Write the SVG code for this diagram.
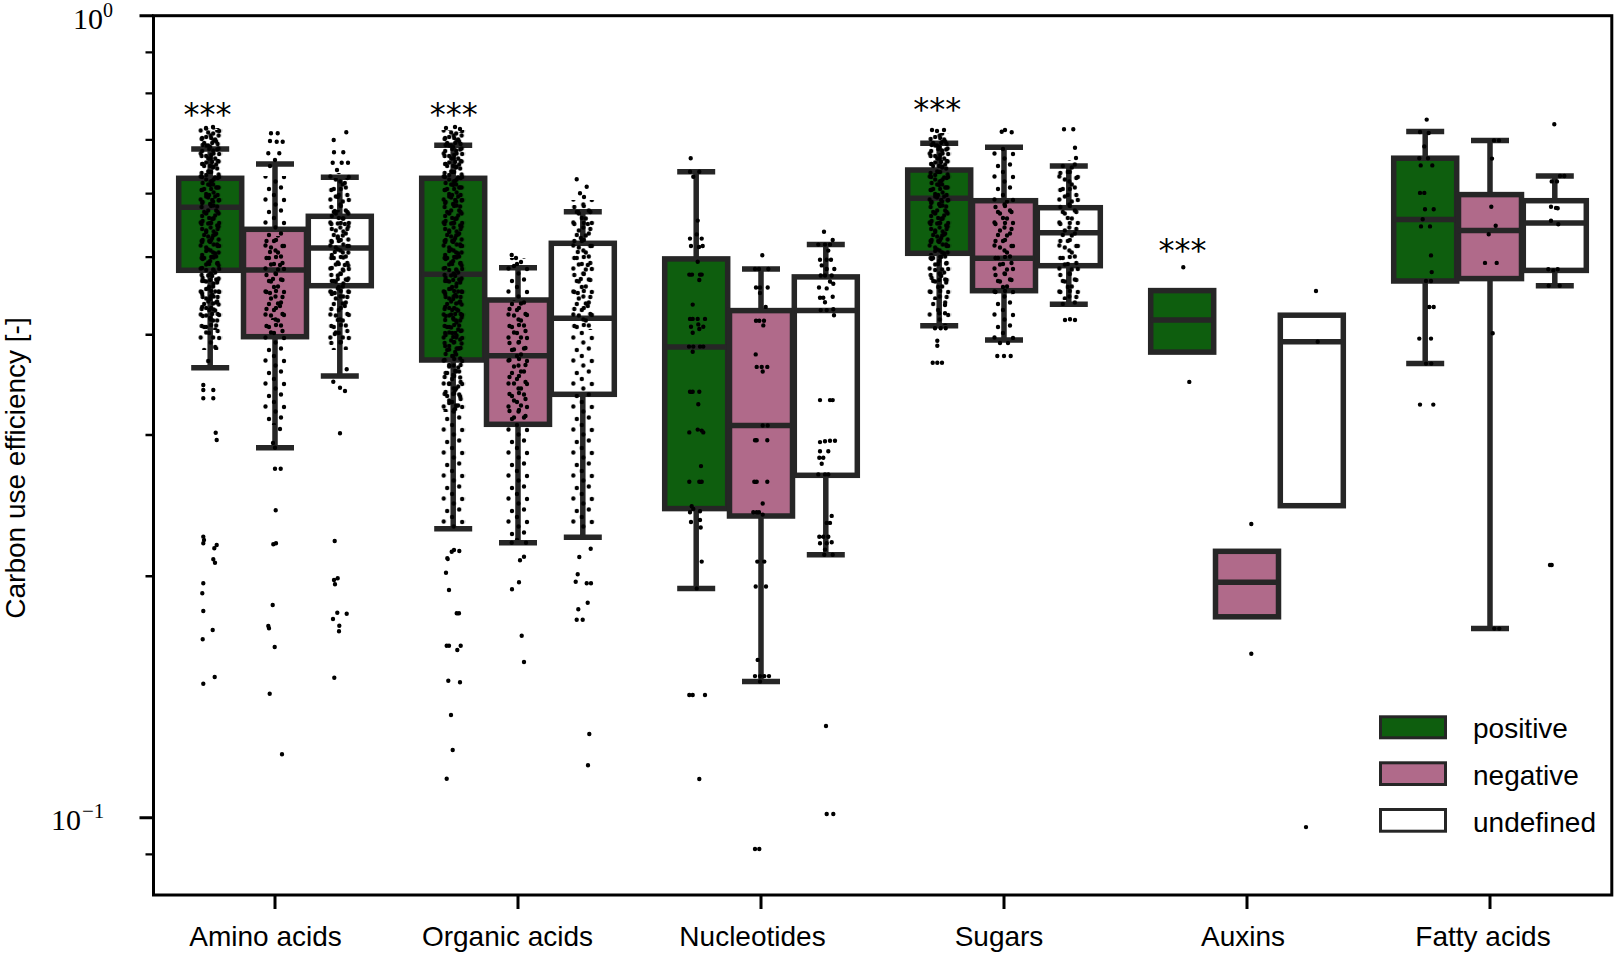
<svg xmlns="http://www.w3.org/2000/svg" width="1615" height="954" viewBox="0 0 1615 954">
<style>
.wl{stroke:#262626;stroke-width:5.5;fill:none}
.bx{stroke:#262626;stroke-width:5.5}
.lg{stroke:#262626;stroke-width:3}
.pos{fill:#0e5e0e}.neg{fill:#b06a8a}.und{fill:#fff}
.d{fill:none;stroke:#000;stroke-width:4.4;stroke-linecap:round}
.t{font-family:"Liberation Sans",Arial,sans-serif;font-size:28px;fill:#000}
.s{font-family:"Liberation Serif","Times New Roman",serif;font-size:30px;fill:#000}
.st{font-family:"DejaVu Sans",sans-serif;font-size:32px;fill:#000;text-anchor:middle}
.tk{stroke:#000;stroke-width:3;fill:none}
.mt{stroke:#000;stroke-width:2.4;fill:none}
</style>
<defs>
<pattern id="pa" patternUnits="userSpaceOnUse" x="-12" y="0" width="24" height="17"><path class="d" d="M3.5 3h0M13 2h0M19.5 8h0M8 9.5h0M15 14.5h0"/></pattern>
<pattern id="pb" patternUnits="userSpaceOnUse" x="-12" y="0" width="24" height="23"><path class="d" d="M6 5h0M18 3.5h0M11 11h0M2.5 15.5h0M21 16h0M12.5 20.5h0"/></pattern>
<pattern id="pc" patternUnits="userSpaceOnUse" x="-12" y="0" width="24" height="13"><path class="d" d="M10 2.5h0M20.5 5.5h0M4 8h0M15.5 10.5h0"/></pattern>
<pattern id="pd" patternUnits="userSpaceOnUse" x="-12" y="0" width="24" height="41"><path class="d" d="M7 6h0M17 19h0M10 33h0"/></pattern>
<pattern id="pe" patternUnits="userSpaceOnUse" x="-12" y="0" width="24" height="19"><path class="d" d="M8 4h0M17 6.5h0M4.5 12h0M12 14h0M19 16.5h0M14 10h0"/></pattern>
</defs>
<rect width="1615" height="954" fill="#fff"/>

<g id="axes">
<rect class="tk" x="153.5" y="15.7" width="1458.3" height="879.3"/>
<path class="tk" d="M139.5 15.7H153.5M139.5 817.7H153.5M275 895V909M518 895V909M761 895V909M1004 895V909M1247 895V909M1490 895V909"/>
<path class="mt" d="M145.5 52.4H153.5M145.5 93.4H153.5M145.5 139.9H153.5M145.5 193.6H153.5M145.5 257.1H153.5M145.5 334.8H153.5M145.5 435H153.5M145.5 576.3H153.5M145.5 854.4H153.5"/>
<text class="s" x="73" y="28.5">10<tspan font-size="20" dy="-12">0</tspan></text>
<text class="s" x="51" y="830">10<tspan font-size="21" dy="-12" dx="1">−1</tspan></text>
<text class="t" transform="translate(25,468) rotate(-90)" text-anchor="middle">Carbon use efficiency [-]</text>
<g class="t" text-anchor="middle">
<text x="265.5" y="946">Amino acids</text>
<text x="507.5" y="946">Organic acids</text>
<text x="752.5" y="946">Nucleotides</text>
<text x="999" y="946">Sugars</text>
<text x="1243" y="946">Auxins</text>
<text x="1483" y="946">Fatty acids</text>
</g>
</g>

<g id="boxes">
<g id="amino-pos"><path class="wl" d="M210.2 178.3V149M191.2 149H229.2M210.2 270.3V367.7M191.2 367.7H229.2"/><rect class="bx pos" x="178.7" y="178.3" width="63" height="92"/><path class="wl" d="M178.7 207.3H241.7"/></g>
<g id="amino-neg"><path class="wl" d="M275 229.3V164M256 164H294M275 336.7V447.7M256 447.7H294"/><rect class="bx neg" x="243.5" y="229.3" width="63" height="107.4"/><path class="wl" d="M243.5 270H306.5"/></g>
<g id="amino-und"><path class="wl" d="M339.8 216.3V177.3M320.8 177.3H358.8M339.8 285.7V376M320.8 376H358.8"/><rect class="bx und" x="308.3" y="216.3" width="63" height="69.4"/><path class="wl" d="M308.3 248H371.3"/></g>

<g id="organic-pos"><path class="wl" d="M453.2 178.3V145.3M434.2 145.3H472.2M453.2 360V528.7M434.2 528.7H472.2"/><rect class="bx pos" x="421.7" y="178.3" width="63" height="181.7"/><path class="wl" d="M421.7 274.3H484.7"/></g>
<g id="organic-neg"><path class="wl" d="M518 300V267.7M499 267.7H537M518 424.3V542.7M499 542.7H537"/><rect class="bx neg" x="486.5" y="300" width="63" height="124.3"/><path class="wl" d="M486.5 355.7H549.5"/></g>
<g id="organic-und"><path class="wl" d="M582.8 243.3V211.7M563.8 211.7H601.8M582.8 394.3V537.3M563.8 537.3H601.8"/><rect class="bx und" x="551.3" y="243.3" width="63" height="151"/><path class="wl" d="M551.3 318.3H614.3"/></g>

<g id="nuc-pos"><path class="wl" d="M696.2 258.9V171.7M677.2 171.7H715.2M696.2 508.6V588.4M677.2 588.4H715.2"/><rect class="bx pos" x="664.7" y="258.9" width="63" height="249.7"/><path class="wl" d="M664.7 347H727.7"/></g>
<g id="nuc-neg"><path class="wl" d="M761 310.6V269M742 269H780M761 516V681.6M742 681.6H780"/><rect class="bx neg" x="729.5" y="310.6" width="63" height="205.4"/><path class="wl" d="M729.5 425.5H792.5"/></g>
<g id="nuc-und"><path class="wl" d="M825.8 276.9V244.6M806.8 244.6H844.8M825.8 475.3V554.7M806.8 554.7H844.8"/><rect class="bx und" x="794.3" y="276.9" width="63" height="198.4"/><path class="wl" d="M794.3 310.6H857.3"/></g>

<g id="sug-pos"><path class="wl" d="M939.2 170V143.3M920.2 143.3H958.2M939.2 253.3V325.7M920.2 325.7H958.2"/><rect class="bx pos" x="907.7" y="170" width="63" height="83.3"/><path class="wl" d="M907.7 198.3H970.7"/></g>
<g id="sug-neg"><path class="wl" d="M1004 200.7V147.3M985 147.3H1023M1004 290.7V340M985 340H1023"/><rect class="bx neg" x="972.5" y="200.7" width="63" height="90"/><path class="wl" d="M972.5 258.3H1035.5"/></g>
<g id="sug-und"><path class="wl" d="M1068.8 207.7V166M1049.8 166H1087.8M1068.8 265.7V304.3M1049.8 304.3H1087.8"/><rect class="bx und" x="1037.3" y="207.7" width="63" height="58"/><path class="wl" d="M1037.3 232.7H1100.3"/></g>

<g id="aux-pos"><rect class="bx pos" x="1150.7" y="290.6" width="63" height="61.5"/><path class="wl" d="M1150.7 320H1213.7"/></g>
<g id="aux-neg"><rect class="bx neg" x="1215.5" y="551.3" width="63" height="65.5"/><path class="wl" d="M1215.5 582.3H1278.5"/></g>
<g id="aux-und"><rect class="bx und" x="1280.3" y="315.2" width="63" height="190.5"/><path class="wl" d="M1280.3 341.8H1343.3"/></g>

<g id="fat-pos"><path class="wl" d="M1425.2 158.2V131.4M1406.2 131.4H1444.2M1425.2 281V363.6M1406.2 363.6H1444.2"/><rect class="bx pos" x="1393.7" y="158.2" width="63" height="122.8"/><path class="wl" d="M1393.7 219.6H1456.7"/></g>
<g id="fat-neg"><path class="wl" d="M1490 194.6V140.4M1471 140.4H1509M1490 278.6V628.6M1471 628.6H1509"/><rect class="bx neg" x="1458.5" y="194.6" width="63" height="84"/><path class="wl" d="M1458.5 230.4H1521.5"/></g>
<g id="fat-und"><path class="wl" d="M1554.8 200.7V176M1535.8 176H1573.8M1554.8 270.4V285.7M1535.8 285.7H1573.8"/><rect class="bx und" x="1523.3" y="200.7" width="63" height="69.7"/><path class="wl" d="M1523.3 222.9H1586.3"/></g>
</g>

<g id="strip">
<g transform="translate(210.2,0)"><rect x="-12" y="128" width="24" height="212" fill="url(#pa)"/><rect x="-12" y="128" width="24" height="222" fill="url(#pb)"/><rect x="-12" y="128" width="24" height="184" fill="url(#pc)"/><rect x="-12" y="130" width="24" height="200" fill="url(#pe)"/><rect x="-12" y="340" width="24" height="28" fill="url(#pd)"/></g>
<g transform="translate(275,0)"><rect x="-12" y="176" width="24" height="249" fill="url(#pb)"/><rect x="-12" y="236" width="24" height="99" fill="url(#pa)"/><rect x="-12" y="250" width="24" height="70" fill="url(#pd)"/><rect x="-12" y="425" width="24" height="22" fill="url(#pd)"/></g>
<g transform="translate(339.8,0)"><rect x="-12" y="173" width="24" height="177" fill="url(#pb)"/><rect x="-12" y="178" width="24" height="167" fill="url(#pa)"/><rect x="-12" y="210" width="24" height="90" fill="url(#pc)"/><rect x="-12" y="180" width="24" height="160" fill="url(#pd)"/></g>
<g transform="translate(453.2,0)"><rect x="-12" y="130" width="24" height="280" fill="url(#pa)"/><rect x="-12" y="130" width="24" height="400" fill="url(#pb)"/><rect x="-12" y="130" width="24" height="220" fill="url(#pc)"/><rect x="-12" y="132" width="24" height="280" fill="url(#pe)"/></g>
<g transform="translate(518,0)"><rect x="-12" y="258" width="24" height="282" fill="url(#pb)"/><rect x="-12" y="300" width="24" height="120" fill="url(#pa)"/></g>
<g transform="translate(582.8,0)"><rect x="-12" y="200" width="24" height="330" fill="url(#pb)"/><rect x="-12" y="205" width="24" height="125" fill="url(#pa)"/><rect x="-12" y="210" width="24" height="100" fill="url(#pd)"/></g>
<g transform="translate(939.2,0)"><rect x="-12" y="133" width="24" height="167" fill="url(#pa)"/><rect x="-12" y="133" width="24" height="192" fill="url(#pb)"/><rect x="-12" y="140" width="24" height="115" fill="url(#pc)"/><rect x="-12" y="135" width="24" height="150" fill="url(#pe)"/></g>
<g transform="translate(1004,0)"><rect x="-12" y="146" width="24" height="194" fill="url(#pb)"/><rect x="-12" y="200" width="24" height="95" fill="url(#pa)"/></g>
<g transform="translate(1068.8,0)"><rect x="-12" y="160" width="24" height="146" fill="url(#pb)"/><rect x="-12" y="165" width="24" height="135" fill="url(#pa)"/></g>
<path class="d" d="M206 128h0M213 127h0M203.3 385h0M203.3 390h0M203.3 398.3h0M213.3 390h0M213.3 398.3h0M215.7 432.7h0M216.7 440h0M203.3 536.7h0M204 540h0M203.3 543.3h0M216.7 545h0M214.3 548.3h0M213.3 559.3h0M215 562.7h0M203.3 583.3h0M202.3 593.3h0M203.3 611h0M212.7 630h0M202.7 639.3h0M214.7 677h0M203.3 683.7h0
M271 133.3h0M277.7 133.3h0M270 141h0M276.7 141.7h0M282.7 141.7h0M268.3 153.3h0M279.3 153.3h0M275 160h0M270 166h0M275 447.7h0M275 468.7h0M280.7 468.7h0M275.7 510.3h0M273.3 544.3h0M276 543.3h0M272.7 605h0M268.3 626h0M269 628.3h0M274.7 647h0M269.7 693.7h0M282 754.3h0
M346.3 132.3h0M333.7 140h0M334 152.3h0M343.3 152.3h0M332.7 162.7h0M341.7 162.7h0M348 162.7h0M337 170h0M346.7 369.3h0M333.3 381.7h0M340 387.7h0M345 391h0M340 433.3h0M334.7 541h0M334 580h0M337.7 578.3h0M335 584.3h0M337.3 612.7h0M346.7 613.7h0M333 619h0M339.3 625.7h0M339 631.3h0M334.3 677.7h0
M446 128h0M455 127h0M460 129h0M447.3 558.3h0M454 550h0M459.3 551h0M451.7 551.7h0M447.7 559h0M446 572.7h0M449 590h0M456.7 613.3h0M459 613.3h0M446.7 645.7h0M449 645.7h0M460.7 645.7h0M457.3 650h0M448.3 680.7h0M460 682.3h0M451 715h0M452.7 750h0M446.7 778.7h0
M511.7 255h0M516 258h0M521 262h0M514 266h0M511.7 542.7h0M526 542.7h0M520 560.3h0M524 556.7h0M519 582.3h0M512 589.3h0M521.7 635.7h0M524 662h0
M576.7 179.3h0M586.7 186.7h0M580 193.3h0M584 197h0M590.7 548.7h0M579.3 557h0M577.7 574.3h0M575.7 581.7h0M586.7 583.3h0M591 583.3h0M587.7 602.7h0M578.3 609.3h0M576.7 619.7h0M582.7 619.7h0M589.3 734h0M588 765.3h0
M690.7 158.3h0M690 171.7h0M699.3 171.7h0M693.3 176.8h0M697.7 220.6h0M690 238.6h0M701.7 238.6h0M696.7 234.4h0M691 246h0M699 247h0M702.7 246h0M697.7 261.7h0M689.3 274.6h0M692 274.6h0M700 274.6h0M701.7 274.6h0M699.3 280h0M692.7 304.6h0M690 318.9h0M692.7 318.9h0M697.7 318.9h0M705 318.9h0M691 326.7h0M698.3 324.4h0M703.3 326.7h0M699.3 329h0M692.7 332.7h0M689 346.6h0M693.3 346.6h0M700 346.6h0M703.3 346.6h0M692.7 351.7h0M690 391.8h0M692.7 391.8h0M699.3 391.8h0M698.3 404.3h0M689.3 432.4h0M697.7 429.6h0M701.7 430.6h0M703.3 432.4h0M701 466.1h0M689.3 481.8h0M699.3 481.8h0M701.7 481.8h0M691.7 506.3h0M693.3 509h0M690 512.3h0M700 511.3h0M691 522h0M700 520h0M700.7 527.5h0M701.7 561.6h0M696.7 588.4h0M689.3 695h0M692.7 695h0M705 695h0M699.3 779h0
M762.3 255.2h0M755 269h0M759 269h0M768.3 269h0M756 287.5h0M760 287.5h0M767.7 287.5h0M760 293h0M765.7 306.9h0M756 320.7h0M759.3 320.7h0M764 320.7h0M763.3 325.4h0M755.7 354.4h0M756.7 366.9h0M761.7 366.9h0M767.3 366.9h0M762.7 371.5h0M762.7 425.5h0M767.7 425.5h0M755 440.3h0M756.7 440.3h0M767.3 440.3h0M754.3 481.8h0M756.7 481.8h0M767.3 481.8h0M762.7 503.5h0M753.3 512.3h0M756.7 512.3h0M759 512.3h0M762.7 514.6h0M757.3 561.6h0M764.3 561.6h0M755.7 586.5h0M766 586.5h0M757.7 659.9h0M755 676.1h0M760 676.1h0M764.3 676.1h0M769 676.1h0M760 681.6h0M755 849h0M759.3 849h0
M824 231.7h0M832.7 240h0M818.3 244.6h0M825 244.6h0M830 244.6h0M828.3 250.6h0M820 259.8h0M826.7 259.8h0M821.7 265.4h0M831 259.8h0M826.7 269h0M834.3 269h0M820.7 275.5h0M825 275.5h0M831.7 275.5h0M830 281.5h0M833.3 283.8h0M819 287.5h0M826.7 288.4h0M820 297.7h0M823.3 297.7h0M832.7 296.8h0M825 302.3h0M820.7 310.1h0M826.7 310.1h0M833.3 309.2h0M834 315.2h0M820 400.1h0M830 400.1h0M832.7 400.1h0M820 442.1h0M825 441.2h0M830 440.7h0M835 440.7h0M820 451.3h0M828.3 451.3h0M819.3 457.8h0M823.3 457.8h0M821.7 463.8h0M818.3 474.4h0M825 474.4h0M828.3 474.4h0M831.7 515.9h0M826.7 522.9h0M830 522.9h0M819.3 536.7h0M823.3 536.7h0M828.3 536.7h0M820 543.2h0M826.7 543.2h0M831.7 542.3h0M825 549.6h0M824.3 554.7h0M832.7 554.7h0M826 726h0M826.7 814h0M833.3 814h0
M932 130h0M937 131h0M944 130h0M935 328.3h0M940.7 328.3h0M945.7 328.3h0M939.3 313.3h0M945 313.3h0M945 305h0M937.3 340.7h0M937.3 345.7h0M932.7 362.7h0M937.3 362.7h0M942 362.7h0
M1001.7 131.7h0M1005 130h0M1011.7 132.3h0M1000 343h0M1008 343h0M997.3 356h0M1004 356h0M1010.7 356h0
M1064 129.3h0M1073.3 129.3h0M1075 147.7h0M1076 158h0M1065 320h0M1070 319.3h0M1075 320h0
M1183.3 267.2h0M1189.3 381.9h0M1251.3 524h0M1251.3 653.7h0M1316 291h0M1317.7 341.8h0M1306 827.1h0
M1426.7 119.6h0M1420 132h0M1428.7 133h0M1424.3 146.4h0M1419.3 158.2h0M1428 158.2h0M1420.7 165.4h0M1432.3 165.4h0M1420 192.9h0M1424.3 192.9h0M1425 209.3h0M1433.7 209.3h0M1422.7 219.3h0M1421 226.4h0M1430 226.4h0M1431 255.4h0M1431.7 272.1h0M1426 281h0M1431 281h0M1429.3 307h0M1433.7 307h0M1419.3 338.6h0M1431 338.6h0M1426 363.6h0M1431.3 363.6h0M1420 404.6h0M1433.3 404.6h0
M1494 140.4h0M1499 140.4h0M1492 158.6h0M1491.3 206.8h0M1495.7 225.7h0M1488.7 234.3h0M1485 262.9h0M1496.7 262.9h0M1492.7 333.2h0M1494.3 628.6h0M1499.3 628.6h0
M1554.3 124.3h0M1560 176h0M1564.3 176h0M1551.7 181.4h0M1557 181.4h0M1551 206.8h0M1556 207.9h0M1557.7 208.2h0M1551 220.7h0M1558.3 224.3h0M1548.3 269.3h0M1553.3 270.4h0M1557.7 269.3h0M1548.7 285.7h0M1559.7 285.7h0M1550 565h0M1551.7 565h0"/>
</g>

<g id="stars">
<text class="st" x="207.5" y="125">***</text>
<text class="st" x="453.8" y="125">***</text>
<text class="st" x="937.3" y="120.3">***</text>
<text class="st" x="1182.4" y="261.3">***</text>
</g>

<g id="legend">
<rect class="lg pos" x="1380.5" y="716.8" width="65" height="21"/>
<rect class="lg neg" x="1380.5" y="762.8" width="65" height="21.7"/>
<rect class="lg und" x="1380.5" y="809.5" width="65" height="21.7"/>
<text class="t" x="1473" y="738">positive</text>
<text class="t" x="1473" y="785">negative</text>
<text class="t" x="1473" y="831.7">undefined</text>
</g>
</svg>
